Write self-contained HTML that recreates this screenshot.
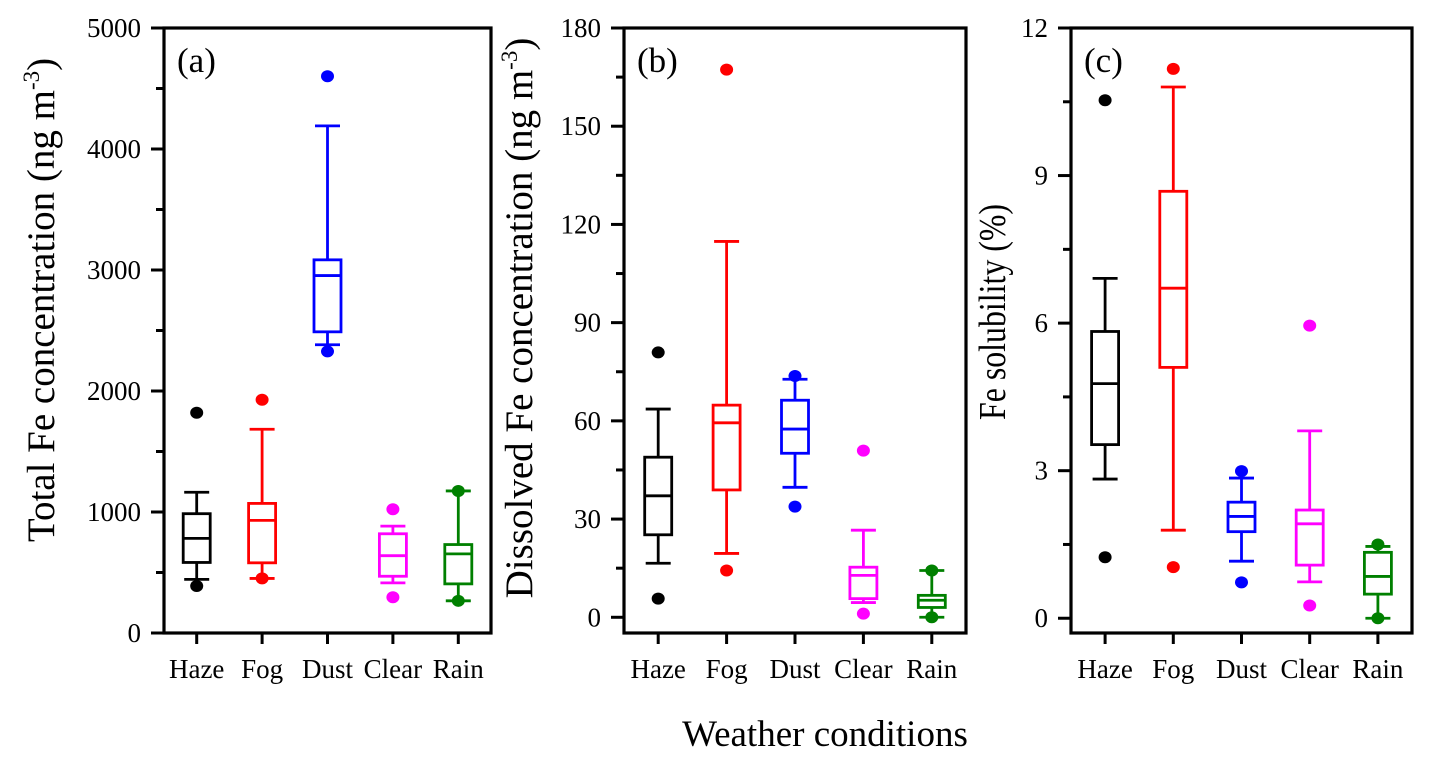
<!DOCTYPE html>
<html><head><meta charset="utf-8"><style>
body{margin:0;background:#fff;}
svg text{font-family:"Liberation Serif",serif;}
</style></head><body>
<svg id="chart" width="1431" height="763" viewBox="0 0 1431 763" xmlns="http://www.w3.org/2000/svg">
<text x="825" y="746" font-size="37" text-anchor="middle">Weather conditions</text>
</svg>
<script>
const categories = ["Haze","Fog","Dust","Clear","Rain"];
const colors = ["#000000","#ff0000","#0000ff","#ff00ff","#008000"];
// [outlierHigh, whiskerHigh, q3, median, q1, whiskerLow, outlierLow]
const totalFe = [
 [1820,1163,986,782,583,443,388],
 [1928,1684,1071,931,580,451,451],
 [4601,4191,3084,2954,2489,2382,2327],
 [1023,883,820,639,469,414,295],
 [1174,1174,731,654,406,266,266]
];
const dissolvedFe = [
 [80.9,63.6,48.9,37.1,25.2,16.5,5.7],
 [167.3,114.8,64.8,59.4,38.9,19.5,14.3],
 [73.7,72.7,66.3,57.5,50.1,39.7,33.8],
 [50.9,26.6,15.3,12.8,5.7,4.5,1.1],
 [14.3,14.3,6.7,5.2,3.0,0,0]
];
const solubility = [
 [10.53,6.91,5.83,4.77,3.53,2.83,1.24],
 [11.17,10.80,8.68,6.71,5.10,1.79,1.04],
 [2.99,2.85,2.36,2.07,1.76,1.16,0.73],
 [5.95,3.81,2.20,1.92,1.08,0.74,0.26],
 [1.50,1.46,1.34,0.85,0.49,0,0]
];
const ticksA = [0,1000,2000,3000,4000,5000];
const ticksB = [0,30,60,90,120,150,180];
const ticksC = [0,3,6,9,12];

const svg = document.getElementById('chart');
const NS = "http://www.w3.org/2000/svg";
function mk(tag, attrs, parent){
  const e = document.createElementNS(NS, tag);
  for (const k in attrs) e.setAttribute(k, attrs[k]);
  (parent||svg).appendChild(e);
  return e;
}
const panels = [
 {id:'a', x0:164, x1:491, top:28, bot:633, vmin:0, vmax:5000, ticks:ticksA, data:totalFe, title:'Total Fe concentration (ng m', tx:42, fs:39, cy:300},
 {id:'b', x0:624, x1:966, top:28, bot:633, vmin:-4.8, vmax:180, ticks:ticksB, data:dissolvedFe, title:'Dissolved Fe concentration (ng m', tx:520, fs:39, cy:318},
 {id:'c', x0:1071, x1:1412, top:28, bot:633, vmin:-0.3, vmax:12, ticks:ticksC, data:solubility, title:'Fe solubility (%)', tx:993, fs:38, cy:312}
];
panels.forEach(p=>{
  const g = mk('g', {});
  
  
  const y = v => p.bot - (v - p.vmin) / (p.vmax - p.vmin) * (p.bot - p.top);
  const step = (p.x1 - p.x0) / 5;
  const xc = i => p.x0 + step * (i + 0.5);
  const frame = mk('rect', {x:p.x0, y:p.top, width:p.x1-p.x0, height:p.bot-p.top, fill:'none', stroke:'#000', 'stroke-width':3.2}, g);
  
  
  p.ticks.forEach((t, k)=>{
    const yy = y(t);
    mk('line', {x1:p.x0-13, x2:p.x0, y1:yy, y2:yy, stroke:'#000', 'stroke-width':3}, g);
    const lb = mk('text', {x:p.x0-23, y:yy+9, 'font-size':27, 'text-anchor':'end'}, g);
    lb.textContent = t;
    
    
    if (k < p.ticks.length-1){
      const ym = y((t + p.ticks[k+1]) / 2);
      mk('line', {x1:p.x0-8, x2:p.x0, y1:ym, y2:ym, stroke:'#000', 'stroke-width':3}, g);
    }
  });
  const tt = mk('text', {x:0, y:0, 'font-size':p.fs, 'text-anchor':'middle', transform:`translate(${p.tx+12},${p.cy}) rotate(-90)`}, g);
  tt.textContent = p.title;
  if (p.id !== 'c'){
    const sup = mk('tspan', {'font-size':Math.round(p.fs*0.6), dy:-15}, tt);
    sup.textContent = '-3';
    const cl = mk('tspan', {dy:15}, tt);
    cl.textContent = ')';
  } else {
    tt.setAttribute('textLength', 216);
    tt.setAttribute('lengthAdjust', 'spacingAndGlyphs');
  }
  
  
  const pl = mk('text', {x:p.x0+13, y:72, 'font-size':35}, g);
  pl.textContent = '(' + p.id + ')';
  
  
  categories.forEach((c, i)=>{
    const x = xc(i);
    mk('line', {x1:x, x2:x, y1:p.bot, y2:p.bot+11, stroke:'#000', 'stroke-width':3}, g);
    const cl = mk('text', {x:x, y:678, 'font-size':27, 'text-anchor':'middle'}, g);
    cl.textContent = c;
    
    
    const d = p.data[i], col = colors[i], hw = 13.5;
    const bg = mk('g', {stroke:col, 'stroke-width':2.8, fill:'none'}, g);
    
    
    mk('line', {x1:x, x2:x, y1:y(d[1]), y2:y(d[2])}, bg);
    mk('line', {x1:x, x2:x, y1:y(d[4]), y2:y(d[5])}, bg);
    mk('line', {x1:x-hw+1, x2:x+hw-1, y1:y(d[1]), y2:y(d[1])}, bg);
    mk('line', {x1:x-hw+1, x2:x+hw-1, y1:y(d[5]), y2:y(d[5])}, bg);
    mk('rect', {x:x-hw, y:y(d[2]), width:2*hw, height:y(d[4])-y(d[2]), fill:'#fff'}, bg);
    mk('line', {x1:x-hw, x2:x+hw, y1:y(d[3]), y2:y(d[3])}, bg);
    [d[0], d[6]].forEach(v=>{
      const o = mk('ellipse', {cx:x, cy:y(v), rx:6.5, ry:6, fill:col, stroke:'none'}, g);
      
      
    });
  });
});
</script>
</body></html>
